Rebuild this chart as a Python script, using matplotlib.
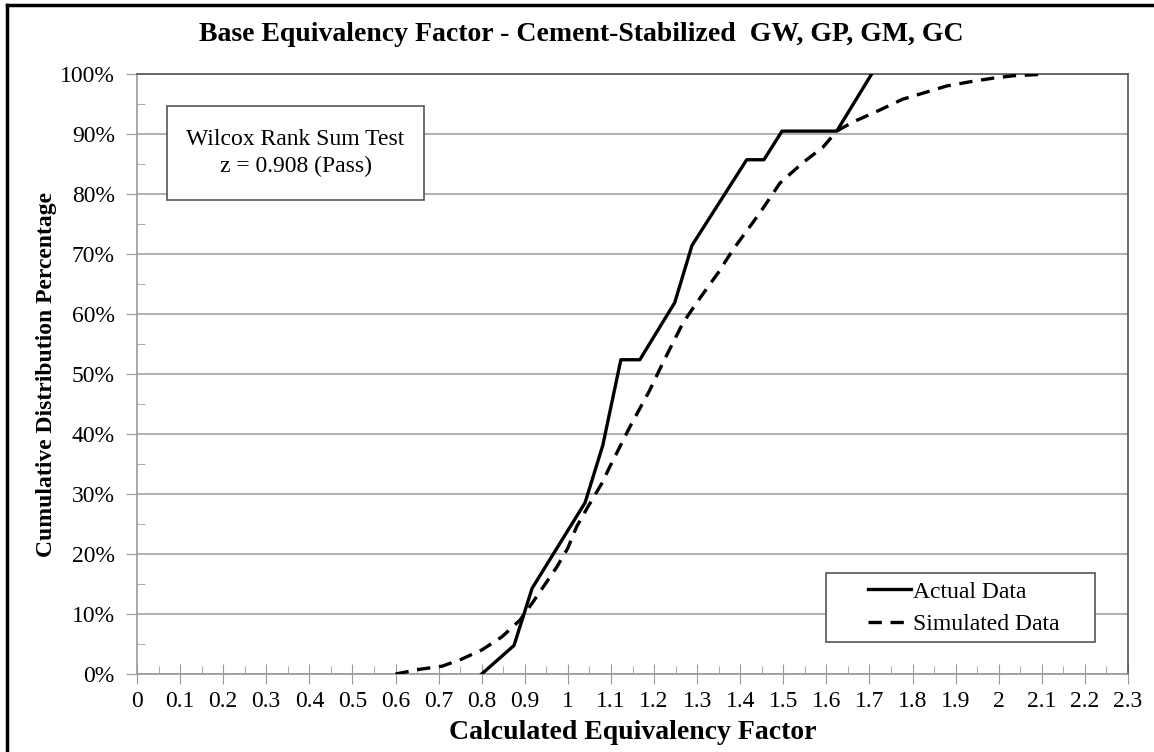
import matplotlib.pyplot as plt
from matplotlib.ticker import MultipleLocator, PercentFormatter, FuncFormatter
from matplotlib.lines import Line2D
from matplotlib.patches import Rectangle

plt.rcParams['font.family'] = ['Liberation Serif', 'DejaVu Serif']

# actual data (calculated equivalency factor, cumulative %)
actual_x = [0.80, 0.875, 0.917, 1.04, 1.081, 1.123, 1.167, 1.248, 1.288, 1.415, 1.455, 1.497, 1.624, 1.705]
actual_y = [0.0, 4.76, 14.29, 28.57, 38.10, 52.38, 52.38, 61.90, 71.43, 85.71, 85.71, 90.48, 90.48, 100.0]

# simulated data
sim_x = [0.60, 0.657, 0.708, 0.754, 0.80, 0.847, 0.889, 0.919, 0.974, 1.0, 1.02, 1.046, 1.079,
         1.097, 1.144, 1.19, 1.22, 1.267, 1.30, 1.35, 1.383, 1.445, 1.492, 1.545, 1.592, 1.624,
         1.662, 1.724, 1.777, 1.833, 1.879, 1.933, 1.986, 2.033, 2.088, 2.10]
sim_y = [0.0, 0.8, 1.3, 2.5, 4.0, 6.2, 9.0, 12.0, 17.8, 21.0, 24.5, 27.8, 31.8,
         34.5, 41.2, 47.3, 51.8, 58.5, 62.0, 67.0, 70.7, 76.8, 81.8, 85.2, 87.8, 90.5,
         92.0, 94.0, 95.8, 97.0, 98.0, 98.7, 99.3, 99.7, 99.9, 100.0]

dash = (0, (4, 2.6))

fig = plt.figure(figsize=(11.54, 7.52), dpi=100)
ax = fig.add_axes([0.1187, 0.1037, 0.9775 - 0.1187, 0.9016 - 0.1037])

ax.plot(actual_x, actual_y, color='black', lw=2.4, label='Actual Data', zorder=3)
ax.plot(sim_x, sim_y, color='black', lw=2.4, ls=dash, label='Simulated Data', zorder=3)

ax.set_xlim(0, 2.3)
ax.set_ylim(0, 100)
ax.xaxis.set_major_locator(MultipleLocator(0.1))
ax.xaxis.set_minor_locator(MultipleLocator(0.05))
ax.yaxis.set_major_locator(MultipleLocator(10))
ax.yaxis.set_minor_locator(MultipleLocator(5))
ax.yaxis.set_major_formatter(PercentFormatter(decimals=0))
ax.xaxis.set_major_formatter(FuncFormatter(lambda v, p: '%g' % round(v, 1)))

ax.grid(axis='y', color='#9a9a9a', lw=1.1)
ax.set_axisbelow(True)
for k, s in ax.spines.items():
    s.set_linewidth(1.2)
    s.set_color('#9a9a9a' if k in ('left', 'bottom') else '#555555')

ax.tick_params(axis='x', which='major', direction='inout', length=14, color='#9a9a9a', labelsize=17, pad=5)
ax.tick_params(axis='x', which='minor', direction='in', length=6, color='#9a9a9a')
ax.tick_params(axis='y', which='major', direction='out', length=8, color='#9a9a9a', labelsize=17, pad=8)
ax.tick_params(axis='y', which='minor', direction='in', length=6, color='#9a9a9a')

ax.set_xlabel('Calculated Equivalency Factor', fontsize=20, fontweight='bold', labelpad=6)
ax.set_ylabel('Cumulative Distribution Percentage', fontsize=17, fontweight='bold', labelpad=2)
fig.text(0.504, 0.954, 'Base Equivalency Factor - Cement-Stabilized  GW, GP, GM, GC',
         ha='center', va='center', fontsize=20, fontweight='bold')

# annotation box
ax.add_patch(Rectangle((0.0303, 0.79), 0.2593, 0.1567, transform=ax.transAxes,
                       fc='white', ec='#555555', lw=1.2, zorder=4))
ax.text(0.16, 0.868, 'Wilcox Rank Sum Test\nz = 0.908 (Pass)', transform=ax.transAxes,
        ha='center', va='center', fontsize=17, linespacing=1.35, zorder=5)

# legend with its own frame
ax.add_patch(Rectangle((0.695, 0.0533), 0.2717, 0.1147, transform=ax.transAxes,
                       fc='white', ec='#555555', lw=1.2, zorder=4))
handles = [Line2D([], [], color='black', lw=2.4),
           Line2D([], [], color='black', lw=2.4, ls=dash)]
leg = ax.legend(handles, ['Actual Data', 'Simulated Data'], loc='center left',
                bbox_to_anchor=(0.726, 0.11), fontsize=17, frameon=False,
                handlelength=1.8, handletextpad=0.1, borderpad=0, labelspacing=0.45)
leg.set_zorder(6)

# outer frame (top and left visible)
fig.add_artist(Line2D([7 / 1154, 7 / 1154], [0, 1 - 5 / 752], transform=fig.transFigure, color='black', lw=2.5))
fig.add_artist(Line2D([7 / 1154, 1], [1 - 5 / 752, 1 - 5 / 752], transform=fig.transFigure, color='black', lw=2.5))

fig.savefig('out.png', dpi=100)
